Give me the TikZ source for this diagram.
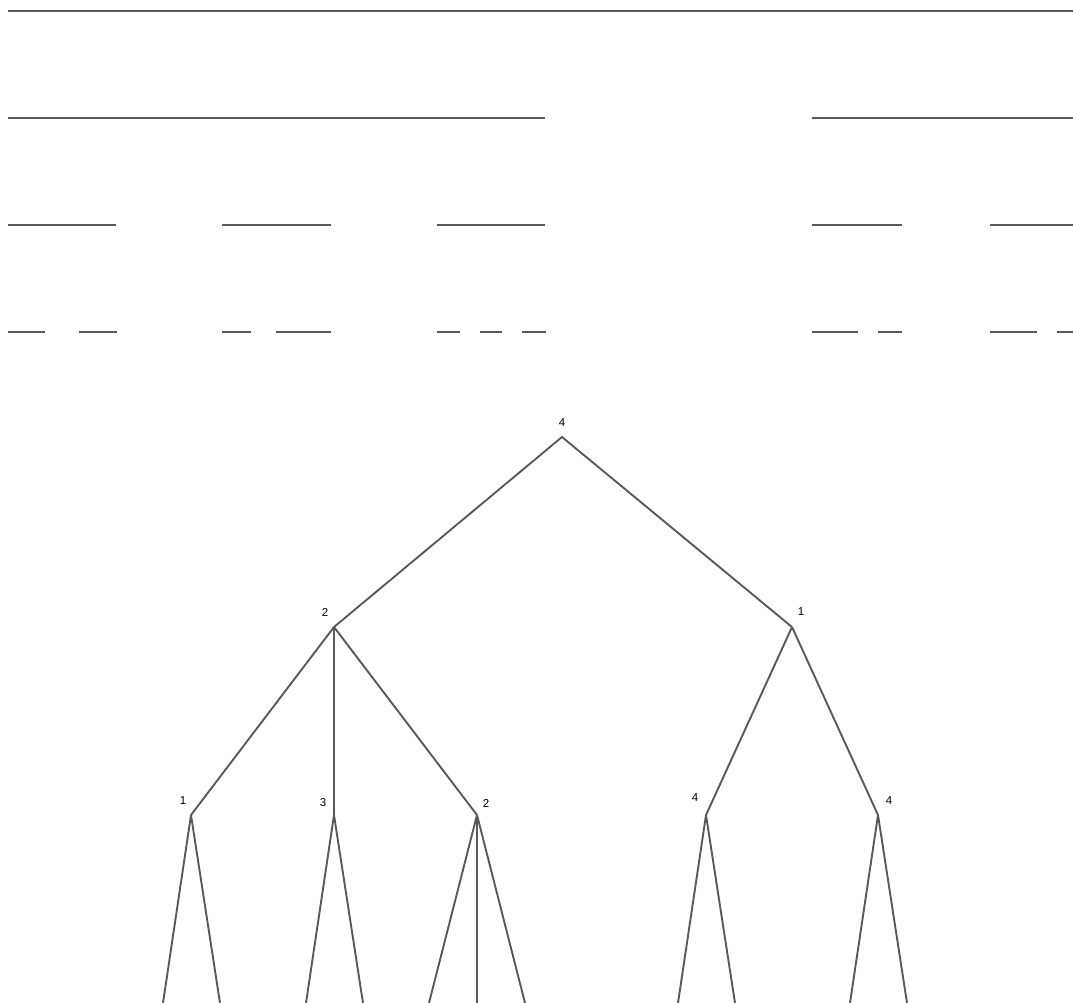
\documentclass[tikz,border=0pt]{standalone}
\usepackage{fontspec}
\setmainfont{Liberation Sans}
\begin{document}
\begin{tikzpicture}[x=1pt,y=-1pt,
  bar/.style={draw=black!65, line width=2pt},
  edge/.style={draw=black!65, line width=1.9pt},
  lbl/.style={inner sep=0pt, font=\fontsize{11.5}{13}\selectfont, text=black}]
\useasboundingbox (0,0) rectangle (1073,1003);
\clip (0,0) rectangle (1073,1003);
% bars
\foreach \a/\b in {8/1073}{\draw[bar] (\a,11) -- (\b,11);}
\foreach \a/\b in {8/545, 812/1073}{\draw[bar] (\a,118) -- (\b,118);}
\foreach \a/\b in {8/116, 222/331, 437/545, 812/902, 990/1073}{\draw[bar] (\a,225) -- (\b,225);}
\foreach \a/\b in {8/45, 79/117, 222/251, 276/331, 437/460, 480/502, 522/546, 812/858, 878/902, 990/1037, 1057/1073}{\draw[bar] (\a,332) -- (\b,332);}
% tree
\coordinate (r) at (562,437);
\coordinate (a) at (334,627);
\coordinate (b) at (792,627);
\coordinate (a1) at (191,815);
\coordinate (a2) at (334,815);
\coordinate (a3) at (477,815);
\coordinate (b1) at (706,815);
\coordinate (b2) at (878,815);
\coordinate (l1) at (163,1003);
\coordinate (l2) at (220,1003);
\coordinate (l3) at (306,1003);
\coordinate (l4) at (363,1003);
\coordinate (l5) at (429,1003);
\coordinate (l6) at (477,1003);
\coordinate (l7) at (525,1003);
\coordinate (l8) at (678,1003);
\coordinate (l9) at (735,1003);
\coordinate (l10) at (850,1003);
\coordinate (l11) at (907,1003);
\node[lbl] (tr) at (562,423) {4};
\node[lbl] (ta) at (325,612) {2};
\node[lbl] (tb) at (801,612) {1};
\node[lbl] (ta1) at (183,801) {1};
\node[lbl] (ta2) at (323,803) {3};
\node[lbl] (ta3) at (486,803) {2};
\node[lbl] (tb1) at (695,798) {4};
\node[lbl] (tb2) at (889,801) {4};
\draw[edge, line join=miter] (a) -- (r) -- (b);
\draw[edge] (a) -- (a1) (a) -- (a2) (a) -- (a3);
\draw[edge] (b) -- (b1) (b) -- (b2);
\draw[edge] (a1) -- (l1) (a1) -- (l2);
\draw[edge] (a2) -- (l3) (a2) -- (l4);
\draw[edge] (a3) -- (l5) (a3) -- (l6) (a3) -- (l7);
\draw[edge] (b1) -- (l8) (b1) -- (l9);
\draw[edge] (b2) -- (l10) (b2) -- (l11);
\end{tikzpicture}
\end{document}
